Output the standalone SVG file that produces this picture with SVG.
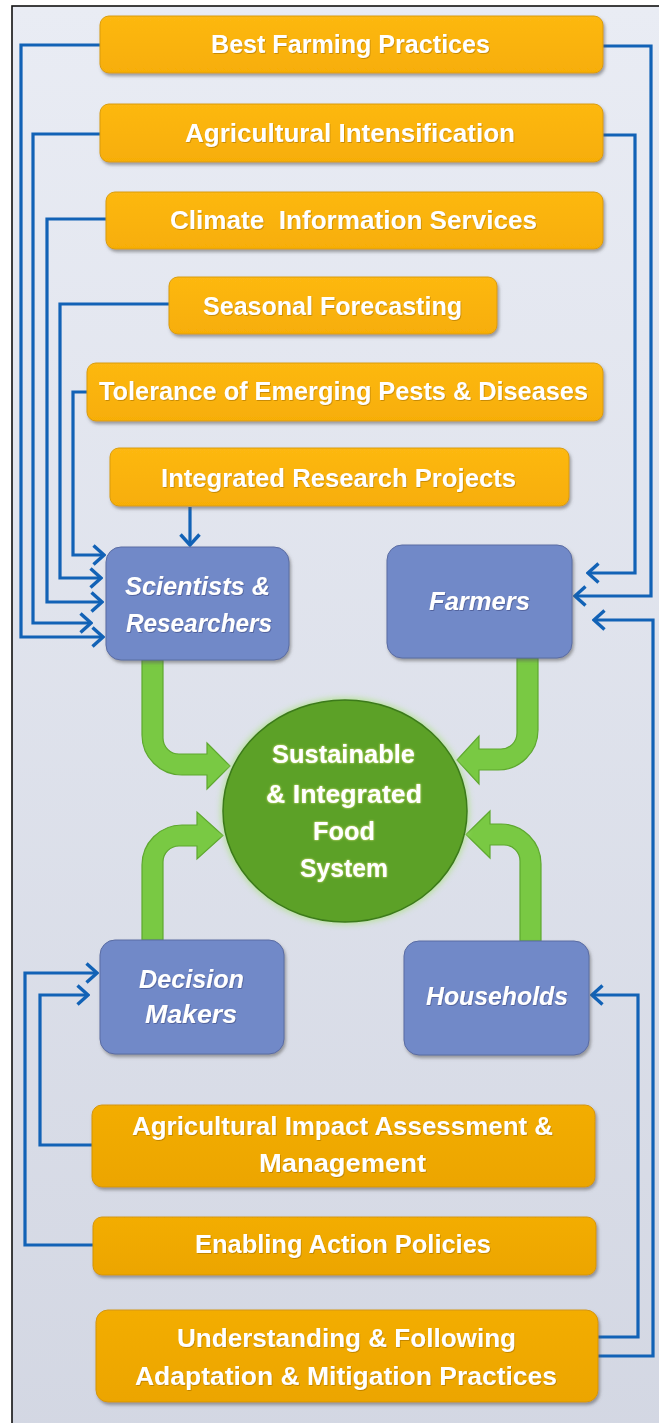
<svg xmlns="http://www.w3.org/2000/svg" width="659" height="1423" viewBox="0 0 659 1423">
  <defs>
    <linearGradient id="bg" x1="0" y1="0" x2="0" y2="1">
      <stop offset="0" stop-color="#e9ecf4"/>
      <stop offset="1" stop-color="#d2d6e2"/>
    </linearGradient>
    <linearGradient id="orange" x1="0" y1="0" x2="0" y2="1">
      <stop offset="0" stop-color="#fdb812"/>
      <stop offset="1" stop-color="#f7ae06"/>
    </linearGradient>
    <linearGradient id="orangeLow" x1="0" y1="0" x2="0" y2="1">
      <stop offset="0" stop-color="#f3ad04"/>
      <stop offset="1" stop-color="#eca500"/>
    </linearGradient>
    <filter id="shadow" x="-10%" y="-20%" width="120%" height="150%">
      <feDropShadow dx="1.5" dy="2.5" stdDeviation="1.5" flood-color="#5a5a5a" flood-opacity="0.55"/>
    </filter>
    <filter id="txtShadow" x="-5%" y="-20%" width="110%" height="150%">
      <feDropShadow dx="0.8" dy="1" stdDeviation="0.6" flood-color="#8a5a00" flood-opacity="0.45"/>
    </filter>
    <filter id="blueTxt" x="-5%" y="-20%" width="110%" height="150%">
      <feDropShadow dx="0.8" dy="1" stdDeviation="0.6" flood-color="#3c4a80" flood-opacity="0.6"/>
    </filter>
    <filter id="glowTxt" x="-10%" y="-30%" width="120%" height="160%">
      <feDropShadow dx="0" dy="0" stdDeviation="1" flood-color="#f4f28a" flood-opacity="0.9"/>
    </filter>
    <filter id="halo" x="-20%" y="-20%" width="140%" height="140%">
      <feGaussianBlur stdDeviation="3"/>
    </filter>
    <marker id="chev" viewBox="0 0 14 22" refX="12" refY="11" markerWidth="14" markerHeight="22" markerUnits="userSpaceOnUse" orient="auto">
      <path d="M1.5,1.5 L12,11 L1.5,20.5" fill="none" stroke="#1262b6" stroke-width="3.4"/>
    </marker>
    <style>
      .obox { fill: url(#orange); stroke: #d99c08; stroke-width: 1; filter: url(#shadow); }
      .oboxLow { fill: url(#orangeLow); stroke: #d4960a; stroke-width: 1; filter: url(#shadow); }
      .bbox { fill: #7189c8; stroke: #5a6ca3; stroke-width: 1; filter: url(#shadow); }
      .otext { font-family: "Liberation Sans", Arial, sans-serif; font-weight: bold; font-size: 25px; fill: #ffffff; text-anchor: middle; filter: url(#txtShadow); }
      .btext { font-family: "Liberation Sans", Arial, sans-serif; font-weight: bold; font-style: italic; font-size: 25px; fill: #ffffff; text-anchor: middle; filter: url(#blueTxt); }
      .ctext { font-family: "Liberation Sans", Arial, sans-serif; font-weight: bold; font-size: 25px; fill: #ffffff; text-anchor: middle; filter: url(#glowTxt); }
      .arrow { fill: none; stroke: #1262b6; stroke-width: 3.2; marker-end: url(#chev); }
      .green { fill: #79c943; stroke: #5ea82f; stroke-width: 1.2; }
    </style>
  </defs>

  <!-- page and framed panel -->
  <rect x="0" y="0" width="659" height="1423" fill="#ffffff"/>
  <rect x="12" y="6" width="700" height="1500" fill="url(#bg)" stroke="#111111" stroke-width="1.6"/>

  <!-- blue connectors -->
  <g id="connectors">
    <path class="arrow" d="M100,45 H21 V637 H103"/>
    <path class="arrow" d="M100,134 H33 V623 H91"/>
    <path class="arrow" d="M106,219 H47 V602 H102"/>
    <path class="arrow" d="M169,304 H60 V578 H101"/>
    <path class="arrow" d="M87,392 H73 V555 H104"/>
    <path class="arrow" d="M190,507 V545"/>
    <path class="arrow" d="M603,46 H651 V596 H575"/>
    <path class="arrow" d="M603,135 H635 V573 H588"/>
    <path class="arrow" d="M598,1356 H653 V620 H594"/>
    <path class="arrow" d="M598,1337 H638 V995 H592"/>
    <path class="arrow" d="M92,1145 H40 V995 H88"/>
    <path class="arrow" d="M93,1245 H25 V973 H97"/>
  </g>

  <!-- green flow arrows into the food system -->
  <g id="flow-arrows">
    <path class="green" d="M142,660 L163,660 L163,738 A16,16 0 0 0 179,754 L207,754 L207,743 L230,766 L207,789 L207,775 L182,775 A40,40 0 0 1 142,735 Z"/>
    <path class="green" d="M517,658 L538,658 L538,730 A40,40 0 0 1 498,770 L479,770 L479,784 L457,760 L479,736 L479,749 L501,749 A16,16 0 0 0 517,733 Z"/>
    <path class="green" d="M142,940 L142,865 A40,40 0 0 1 182,825 L197,825 L197,812 L223,835.5 L197,859 L197,846 L179,846 A16,16 0 0 0 163,862 L163,940 Z"/>
    <path class="green" d="M541,941 L541,864 A40,40 0 0 0 501,824 L490,824 L490,811 L466,834.5 L490,858 L490,845 L504,845 A16,16 0 0 1 520,861 L520,941 Z"/>
  </g>

  <!-- top practice boxes -->
  <g id="best-farming">
    <rect class="obox" x="100" y="16" width="503" height="57" rx="9"/>
    <text class="otext" x="350.5" y="53" textLength="279" lengthAdjust="spacingAndGlyphs">Best Farming Practices</text>
  </g>
  <g id="agri-intensification">
    <rect class="obox" x="100" y="104" width="503" height="58" rx="9"/>
    <text class="otext" x="350" y="142" textLength="330" lengthAdjust="spacingAndGlyphs">Agricultural Intensification</text>
  </g>
  <g id="climate-info">
    <rect class="obox" x="106" y="192" width="497" height="57" rx="9"/>
    <text class="otext" x="353.5" y="229" textLength="367" lengthAdjust="spacingAndGlyphs" style="white-space:pre">Climate  Information Services</text>
  </g>
  <g id="seasonal-forecasting">
    <rect class="obox" x="169" y="277" width="328" height="57" rx="9"/>
    <text class="otext" x="332.5" y="315" textLength="259" lengthAdjust="spacingAndGlyphs">Seasonal Forecasting</text>
  </g>
  <g id="pest-tolerance">
    <rect class="obox" x="87" y="363" width="516" height="58" rx="9"/>
    <text class="otext" x="343.5" y="400" textLength="489" lengthAdjust="spacingAndGlyphs">Tolerance of Emerging Pests &amp; Diseases</text>
  </g>
  <g id="integrated-research">
    <rect class="obox" x="110" y="448" width="459" height="58" rx="9"/>
    <text class="otext" x="338.5" y="487" textLength="355" lengthAdjust="spacingAndGlyphs">Integrated Research Projects</text>
  </g>

  <!-- stakeholder boxes -->
  <g id="scientists">
    <rect class="bbox" x="106" y="547" width="183" height="113" rx="15"/>
    <text class="btext" x="197.5" y="595" textLength="145" lengthAdjust="spacingAndGlyphs">Scientists &amp;</text>
    <text class="btext" x="199" y="632" textLength="146" lengthAdjust="spacingAndGlyphs">Researchers</text>
  </g>
  <g id="farmers">
    <rect class="bbox" x="387" y="545" width="185" height="113" rx="15"/>
    <text class="btext" x="479.5" y="610" textLength="101" lengthAdjust="spacingAndGlyphs">Farmers</text>
  </g>
  <g id="decision-makers">
    <rect class="bbox" x="100" y="940" width="184" height="114" rx="15"/>
    <text class="btext" x="191.5" y="988" textLength="105" lengthAdjust="spacingAndGlyphs">Decision</text>
    <text class="btext" x="191" y="1023" textLength="92" lengthAdjust="spacingAndGlyphs">Makers</text>
  </g>
  <g id="households">
    <rect class="bbox" x="404" y="941" width="185" height="114" rx="15"/>
    <text class="btext" x="497" y="1005" textLength="142" lengthAdjust="spacingAndGlyphs">Households</text>
  </g>

  <!-- central food system -->
  <g id="food-system">
    <ellipse cx="345" cy="811" rx="124" ry="113" fill="#a9e27c" opacity="0.8" filter="url(#halo)"/>
    <ellipse cx="345" cy="811" rx="122" ry="111" fill="#5ca127" stroke="#3c7a1b" stroke-width="1.5"/>
    <text class="ctext" x="343.5" y="763" textLength="143" lengthAdjust="spacingAndGlyphs">Sustainable</text>
    <text class="ctext" x="344" y="803" textLength="156" lengthAdjust="spacingAndGlyphs">&amp; Integrated</text>
    <text class="ctext" x="344" y="840" textLength="62" lengthAdjust="spacingAndGlyphs">Food</text>
    <text class="ctext" x="344" y="877" textLength="88" lengthAdjust="spacingAndGlyphs">System</text>
  </g>

  <!-- lower policy boxes -->
  <g id="impact-assessment">
    <rect class="oboxLow" x="92" y="1105" width="503" height="82" rx="10"/>
    <text class="otext" x="342.5" y="1135" textLength="421" lengthAdjust="spacingAndGlyphs">Agricultural Impact Assessment &amp;</text>
    <text class="otext" x="342.5" y="1172" textLength="167" lengthAdjust="spacingAndGlyphs">Management</text>
  </g>
  <g id="enabling-policies">
    <rect class="oboxLow" x="93" y="1217" width="503" height="58" rx="9"/>
    <text class="otext" x="343" y="1253" textLength="296" lengthAdjust="spacingAndGlyphs">Enabling Action Policies</text>
  </g>
  <g id="adaptation-practices">
    <rect class="oboxLow" x="96" y="1310" width="502" height="92" rx="12"/>
    <text class="otext" x="346.5" y="1347" textLength="339" lengthAdjust="spacingAndGlyphs">Understanding &amp; Following</text>
    <text class="otext" x="346" y="1385" textLength="422" lengthAdjust="spacingAndGlyphs">Adaptation &amp; Mitigation Practices</text>
  </g>
</svg>
